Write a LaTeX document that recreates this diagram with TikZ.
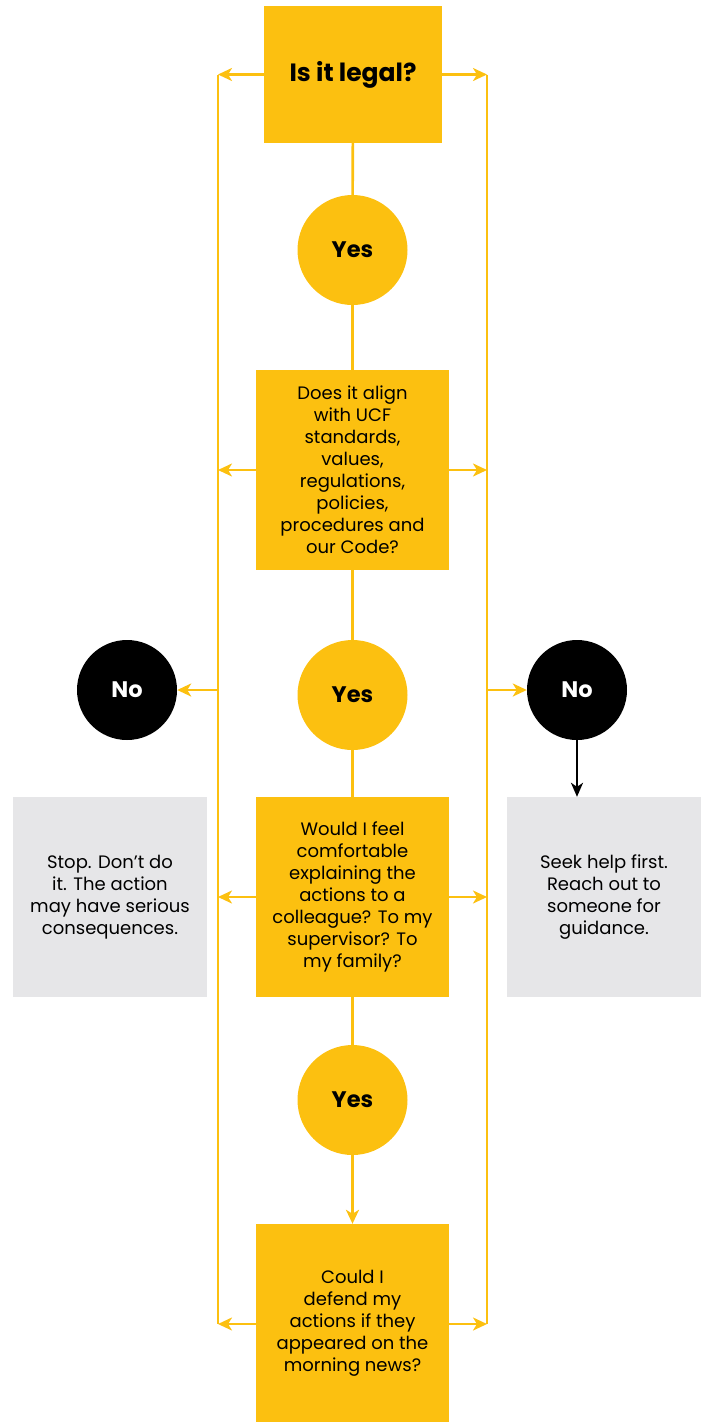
\documentclass[tikz,border=0pt]{standalone}
\usepackage{fontspec}
\setmainfont{Poppins}
\usetikzlibrary{arrows.meta}
\definecolor{ucfgold}{HTML}{FCC010}
\definecolor{ucfgrey}{HTML}{E6E6E8}
\begin{document}
\begin{tikzpicture}[x=1pt,y=-1pt,
  qbox/.style={fill=ucfgold, draw=none, inner sep=0pt, align=center,
    minimum width=193pt, minimum height=200pt, font=\fontsize{18}{22}\selectfont},
  gbox/.style={fill=ucfgrey, draw=none, inner sep=0pt, align=center,
    minimum width=194pt, minimum height=200pt, font=\fontsize{18}{22}\selectfont},
  yescirc/.style={circle, fill=ucfgold, draw=none, minimum size=110pt, inner sep=0pt,
    font=\fontsize{22.5}{26}\selectfont\bfseries},
  nocirc/.style={circle, fill=black, draw=none, minimum size=100pt, inner sep=0pt,
    text=white, font=\fontsize{22.5}{26}\selectfont\bfseries},
  yl/.style={draw=ucfgold, line width=2.6pt},
  ya/.style={draw=ucfgold, line width=2.6pt, -{Stealth[length=14pt,width=13pt,inset=4pt]}},
  ba/.style={draw=black, line width=2pt, -{Stealth[length=14pt,width=12pt,inset=4pt]}}
]
\useasboundingbox (0,0) rectangle (705,1422);

\node[qbox, minimum width=178pt, minimum height=137pt, font=\fontsize{25}{30}\selectfont\bfseries] (b1) at (353,74.5) {Is it legal?};
\node[yescirc] (y1) at (352.5,250) {Yes};
\node[qbox] (b2) at (352.5,470) {Does it align\\with UCF\\standards,\\values,\\regulations,\\policies,\\procedures and\\our Code?};
\node[yescirc] (y2) at (352.5,695) {Yes};
\node[qbox] (b3) at (352.5,897) {Would I feel\\comfortable\\explaining the\\actions to a\\colleague? To my\\supervisor? To\\my family?};
\node[yescirc] (y3) at (352.5,1100) {Yes};
\node[qbox, minimum height=198pt] (b4) at (352.5,1323) {Could I\\defend my\\actions if they\\appeared on the\\morning news?};

\node[nocirc] (n1) at (127,690) {No};
\node[nocirc] (n2) at (577,690) {No};
\node[gbox] (g1) at (110,897) {Stop. Don’t do\\it. The action\\may have serious\\consequences.};
\node[gbox] (g2) at (604,897) {Seek help first.\\Reach out to\\someone for\\guidance.};

\coordinate (lt) at (218,74.5);
\coordinate (lb) at (218,1324);
\coordinate (rt) at (487,74.5);
\coordinate (rb) at (487,1324);

\draw[yl] (lt) -- (lb);
\draw[yl] (rt) -- (rb);

\draw[yl] (b1) -- (y1);
\draw[yl] (y1) -- (b2);
\draw[yl] (b2) -- (y2);
\draw[yl] (y2) -- (b3);
\draw[yl] (b3) -- (y3);
\draw[ya] (y3) -- (b4);

\draw[ya] (b1.west) -- (lt);
\draw[ya] (b1.east) -- (rt);
\draw[ya] (b2.west) -- (b2.west -| lt);
\draw[ya] (b2.east) -- (b2.east -| rt);
\draw[ya] (b3.west) -- (b3.west -| lt);
\draw[ya] (b3.east) -- (b3.east -| rt);
\draw[ya] (lb -| b4.west) -- (lb);
\draw[ya] (rb -| b4.east) -- (rb);

\draw[ya] (lt |- n1) -- (n1);
\draw[ya] (rt |- n2) -- (n2);
\draw[ba] (n2.south) -- (n2.south |- g2.north);
\end{tikzpicture}
\end{document}
